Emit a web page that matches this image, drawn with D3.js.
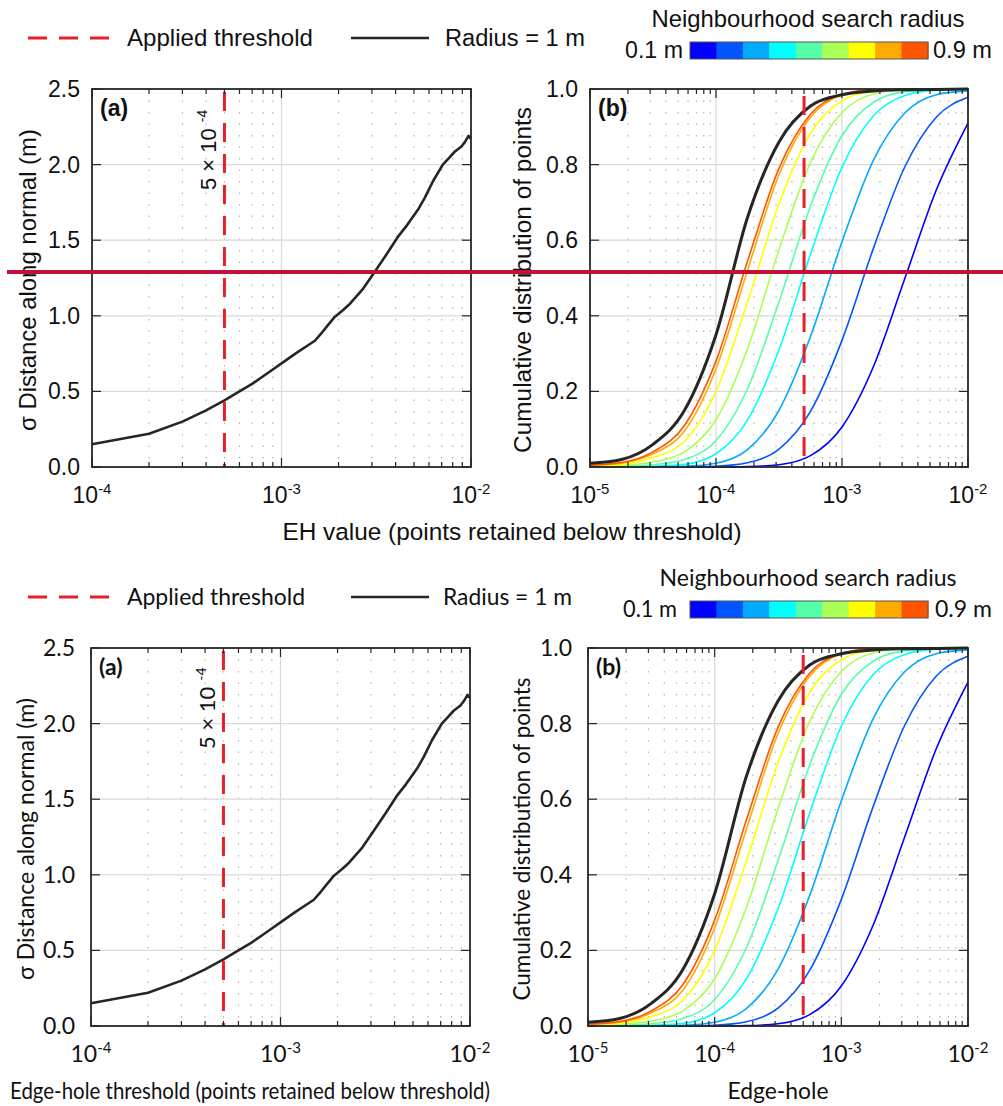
<!DOCTYPE html>
<html><head><meta charset="utf-8">
<script src="https://cdn.jsdelivr.net/npm/d3@7"></script>
<style>body{margin:0;background:#fff} svg{display:block}</style>
</head><body>
<svg id="chart" width="1003" height="1106"></svg>
<script>
// ---------- data ----------
const ehValues = [1e-4, 2e-4, 3e-4, 4e-4, 5e-4, 6e-4, 7e-4, 8e-4, 9e-4, 1e-3, 1.2e-3, 1.4e-3, 1.5e-3, 1.6e-3, 1.75e-3, 1.9e-3, 2.1e-3, 2.3e-3, 2.7e-3, 3.1e-3, 3.6e-3, 4.1e-3, 4.6e-3, 5.3e-3, 5.7e-3, 6.3e-3, 7.1e-3, 7.6e-3, 8.2e-3, 8.9e-3, 9.3e-3, 9.7e-3, 1e-2];
const sigmaValues = [0.15, 0.22, 0.30, 0.375, 0.44, 0.50, 0.55, 0.60, 0.645, 0.685, 0.755, 0.81, 0.835, 0.875, 0.935, 0.99, 1.035, 1.08, 1.18, 1.29, 1.41, 1.52, 1.60, 1.71, 1.78, 1.89, 2.0, 2.04, 2.085, 2.12, 2.15, 2.19, 2.17];

const cdfX = [1e-5, 1.778e-5, 3.162e-5, 5.623e-5, 1e-4, 1.778e-4, 3.162e-4, 5.623e-4, 1e-3, 1.778e-3, 3.162e-3, 5.623e-3, 1e-2];
const radiusLabels = ["0.1 m", "0.2 m", "0.3 m", "0.4 m", "0.5 m", "0.6 m", "0.7 m", "0.8 m", "0.9 m"];
const cdfR01 = [0, 0, 0, 0, 0.0001, 0.001, 0.006, 0.030, 0.106, 0.266, 0.50, 0.734, 0.91];
const cdfR02 = [0, 0, 0.0001, 0.0002, 0.002, 0.011, 0.047, 0.147, 0.335, 0.579, 0.795, 0.926, 0.978];
const cdfR03 = [0, 0.0002, 0.0005, 0.002, 0.010, 0.046, 0.150, 0.345, 0.596, 0.812, 0.937, 0.985, 0.995];
const cdfR04 = [0.0005, 0.001, 0.002, 0.007, 0.035, 0.124, 0.310, 0.563, 0.793, 0.929, 0.983, 0.997, 0.999];
const cdfR05 = [0.001, 0.002, 0.006, 0.020, 0.070, 0.207, 0.437, 0.690, 0.877, 0.965, 0.993, 0.999, 1];
const cdfR06 = [0.002, 0.004, 0.013, 0.040, 0.125, 0.313, 0.575, 0.806, 0.938, 0.987, 0.998, 0.9995, 1];
const cdfR07 = [0.003, 0.007, 0.025, 0.068, 0.200, 0.436, 0.696, 0.883, 0.969, 0.994, 0.999, 1, 1];
const cdfR08 = [0.004, 0.010, 0.035, 0.095, 0.260, 0.520, 0.773, 0.925, 0.984, 0.997, 0.999, 1, 1];
const cdfR09 = [0.005, 0.012, 0.040, 0.110, 0.280, 0.544, 0.790, 0.933, 0.986, 0.998, 0.999, 1, 1];
const cdfR1m = [0.010, 0.020, 0.060, 0.150, 0.350, 0.660, 0.860, 0.955, 0.985, 0.995, 0.998, 0.999, 1];
const cdfSeries = [cdfR01, cdfR02, cdfR03, cdfR04, cdfR05, cdfR06, cdfR07, cdfR08, cdfR09];

const thresholdValue = 5e-4;
const sigmaTicks = [0, 0.5, 1.0, 1.5, 2.0, 2.5];
const cdfTicks = [0, 0.2, 0.4, 0.6, 0.8, 1.0];
const ehDecades = [1e-4, 1e-3, 1e-2];
const cdfDecades = [1e-5, 1e-4, 1e-3, 1e-2];

// ---------- styles ----------
const jet9 = ["#0000ff", "#0055ff", "#00aaff", "#00ffff", "#55ffaa", "#aaff55", "#ffff00", "#ffaa00", "#ff5500"];
const AX = "#262626";
const RED = "#e8202a";

const svg = d3.select("#chart");

// match a text's rendered width to a target: either by font-size ("fit") or by glyph compression ("squeeze")
function sizeText(sel, target, mode) {
  const w = sel.node().getComputedTextLength();
  if (!(w > 0)) return sel;
  if (mode === "squeeze") {
    sel.attr("textLength", target).attr("lengthAdjust", "spacingAndGlyphs");
  } else {
    const fs = parseFloat(sel.attr("font-size"));
    sel.attr("font-size", (fs * target / w).toFixed(2));
  }
  return sel;
}

function expLabel(sel, d, supSize) {
  const e = Math.round(Math.log10(d));
  sel.append("tspan").text("10");
  sel.append("tspan").attr("dy", -9).attr("font-size", supSize).text(String(e));
}

function drawPanel(g, p) {
  const F = p.font;
  const x = d3.scaleLog().domain(p.xDomain).range([p.left, p.right]);
  const y = d3.scaleLinear().domain(p.yDomain).range([p.bottom, p.top]);
  const allTicks = x.ticks();
  const decadeSet = new Set(p.decades.map(d => d.toExponential(3)));
  const minor = allTicks.filter(d => !decadeSet.has(d.toExponential(3)));

  g.append("g").selectAll("line").data(minor).join("line")
    .attr("x1", d => x(d)).attr("x2", d => x(d))
    .attr("y1", p.top).attr("y2", p.bottom)
    .attr("stroke", "#b4b4b4").attr("stroke-width", 1.2).attr("stroke-dasharray", "1.5,10");
  g.append("g").selectAll("line").data(p.decades.slice(1, -1)).join("line")
    .attr("x1", d => x(d)).attr("x2", d => x(d))
    .attr("y1", p.top).attr("y2", p.bottom)
    .attr("stroke", "#dadada").attr("stroke-width", 1.2);
  g.append("g").selectAll("line").data(p.yTicks.slice(1, -1)).join("line")
    .attr("x1", p.left).attr("x2", p.right)
    .attr("y1", d => y(d)).attr("y2", d => y(d))
    .attr("stroke", "#dadada").attr("stroke-width", 1.2);

  p.drawData(g, x, y);

  g.append("rect").attr("x", p.left).attr("y", p.top)
    .attr("width", p.right - p.left).attr("height", p.bottom - p.top)
    .attr("fill", "none").attr("stroke", AX).attr("stroke-width", 1.8);

  const tk = g.append("g").attr("stroke", AX).attr("stroke-width", 1.2);
  tk.selectAll("line.mnb").data(minor).join("line").attr("class", "mnb")
    .attr("x1", d => x(d)).attr("x2", d => x(d)).attr("y1", p.bottom).attr("y2", p.bottom - 5);
  tk.selectAll("line.mnt").data(minor).join("line").attr("class", "mnt")
    .attr("x1", d => x(d)).attr("x2", d => x(d)).attr("y1", p.top).attr("y2", p.top + 5);
  tk.selectAll("line.mjb").data(p.decades).join("line").attr("class", "mjb")
    .attr("x1", d => x(d)).attr("x2", d => x(d)).attr("y1", p.bottom).attr("y2", p.bottom - 9);
  tk.selectAll("line.mjt").data(p.decades).join("line").attr("class", "mjt")
    .attr("x1", d => x(d)).attr("x2", d => x(d)).attr("y1", p.top).attr("y2", p.top + 9);
  tk.selectAll("line.yl").data(p.yTicks).join("line").attr("class", "yl")
    .attr("x1", p.left).attr("x2", p.left + 9).attr("y1", d => y(d)).attr("y2", d => y(d));
  tk.selectAll("line.yr").data(p.yTicks).join("line").attr("class", "yr")
    .attr("x1", p.right).attr("x2", p.right - 9).attr("y1", d => y(d)).attr("y2", d => y(d));

  g.append("g").selectAll("text").data(p.decades).join("text")
    .attr("font-family", F)
    .attr("x", d => x(d)).attr("y", p.tickBaseline)
    .attr("text-anchor", "middle").attr("font-size", p.tickSize).attr("fill", "#111")
    .each(function (d) { expLabel(d3.select(this), d, p.supSize); });
  g.append("g").selectAll("text").data(p.yTicks).join("text")
    .attr("font-family", F)
    .attr("x", p.left - p.yLabelGap).attr("y", d => y(d) + 8)
    .attr("text-anchor", "end").attr("font-size", p.tickSize).attr("fill", "#111")
    .text(d => d.toFixed(1));

  g.append("text").attr("font-family", F).attr("x", p.left + 8).attr("y", p.top + 27)
    .attr("font-weight", "bold").attr("font-size", 23).attr("fill", "#111").text(p.letter);

  const yt = g.append("text").attr("font-family", F)
    .attr("transform", `translate(${p.yTitleX},${p.yTitleY}) rotate(-90)`)
    .attr("text-anchor", "middle").attr("font-size", p.titleSize).attr("fill", "#111")
    .text(p.yTitle);
  sizeText(yt, p.yTitleW, p.mode);
  return { x, y };
}

function drawFigure(cfg) {
  const F = cfg.font;
  const g = svg.append("g").attr("transform", `translate(0,${cfg.dy})`);
  const txt = (x, y, s, w, anchor) => {
    const t = g.append("text").attr("font-family", F).attr("x", x).attr("y", y)
      .attr("text-anchor", anchor || "start").attr("font-size", 24).attr("fill", "#111").text(s);
    return sizeText(t, w, cfg.mode);
  };

  // ---- legend ----
  g.append("line").attr("x1", 28).attr("x2", 110).attr("y1", 38).attr("y2", 38)
    .attr("stroke", RED).attr("stroke-width", 3).attr("stroke-dasharray", "19,12");
  txt(127, 46, "Applied threshold", cfg.w.applied);
  g.append("line").attr("x1", 351).attr("x2", 429).attr("y1", 38).attr("y2", 38)
    .attr("stroke", AX).attr("stroke-width", 2.5);
  txt(cfg.radiusX, 46, "Radius = 1 m", cfg.w.radius);

  txt(cfg.nsrX, 27, "Neighbourhood search radius", cfg.w.nsr, "middle");
  const cb = d3.scaleBand().domain(radiusLabels).range([690, 928]);
  g.append("g").selectAll("rect").data(radiusLabels).join("rect")
    .attr("x", d => cb(d)).attr("y", 42).attr("width", cb.bandwidth() + 0.5).attr("height", 17)
    .attr("fill", (d, i) => jet9[i]);
  g.append("rect").attr("x", 690).attr("y", 42).attr("width", 238).attr("height", 17)
    .attr("fill", "none").attr("stroke", "#555").attr("stroke-width", 1);
  txt(cfg.lowX, 58, radiusLabels[0], cfg.w.low, "end");
  txt(cfg.highX, 58, radiusLabels[8], cfg.w.high);

  const common = { font: F, mode: cfg.mode, top: 89, bottom: 467, tickBaseline: 503,
                   tickSize: cfg.tickSize, titleSize: 24, supSize: 15,
                   yLabelGap: cfg.yLabelGap, yTitleY: 280 };

  drawPanel(g, Object.assign({}, common, {
    left: cfg.aLeft, right: cfg.aRight, xDomain: [1e-4, 1e-2], yDomain: [0, 2.5],
    decades: ehDecades, yTicks: sigmaTicks, letter: "(a)",
    yTitle: "σ Distance along normal (m)", yTitleX: cfg.aTitleX, yTitleW: cfg.w.yA,
    drawData: (gg, x, y) => {
      const pts = ehValues.map((v, i) => [v, sigmaValues[i]]);
      gg.append("path").attr("d", d3.line().x(d => x(d[0])).y(d => y(d[1]))(pts))
        .attr("fill", "none").attr("stroke", AX).attr("stroke-width", 2.6)
        .attr("stroke-linejoin", "round");
      gg.append("line").attr("x1", x(thresholdValue)).attr("x2", x(thresholdValue))
        .attr("y1", 92).attr("y2", 467)
        .attr("stroke", RED).attr("stroke-width", 3).attr("stroke-dasharray", "19,12");
      const t = gg.append("text").attr("font-family", F)
        .attr("transform", `translate(${x(thresholdValue) - 8},190) rotate(-90)`)
        .attr("font-size", 22).attr("fill", "#111");
      t.append("tspan").text("5 × 10");
      t.append("tspan").attr("dx", 6).attr("dy", -9).attr("font-size", 14).text("-4");
    }
  }));

  drawPanel(g, Object.assign({}, common, {
    left: cfg.bLeft, right: cfg.bRight, xDomain: [1e-5, 1e-2], yDomain: [0, 1],
    decades: cdfDecades, yTicks: cdfTicks, letter: "(b)",
    yTitle: "Cumulative distribution of points", yTitleX: cfg.bTitleX, yTitleW: cfg.w.yB,
    drawData: (gg, x, y) => {
      const line = d3.line().x(d => x(d[0])).y(d => y(d[1])).curve(d3.curveMonotoneX);
      cdfSeries.forEach((s, i) => {
        gg.append("path").attr("d", line(cdfX.map((v, j) => [v, s[j]])))
          .attr("fill", "none").attr("stroke", jet9[i]).attr("stroke-width", 1.6);
      });
      gg.append("path").attr("d", line(cdfX.map((v, j) => [v, cdfR1m[j]])))
        .attr("fill", "none").attr("stroke", AX).attr("stroke-width", 3);
      gg.append("line").attr("x1", x(thresholdValue)).attr("x2", x(thresholdValue))
        .attr("y1", 96).attr("y2", 467)
        .attr("stroke", RED).attr("stroke-width", 3).attr("stroke-dasharray", "19,12");
    }
  }));

  cfg.xTitles.forEach(t => txt(t.x, 540, t.text, t.w, "middle"));
  return g;
}

drawFigure({
  dy: 0, font: "Liberation Sans", mode: "fit", tickSize: 23, yLabelGap: 12,
  aLeft: 92, aRight: 471, bLeft: 590, bRight: 968, aTitleX: 36, bTitleX: 531,
  radiusX: 445, nsrX: 808, lowX: 683, highX: 933,
  w: { applied: 186, radius: 140, nsr: 313, low: 58, high: 59, yA: 302, yB: 346 },
  xTitles: [{ x: 512, text: "EH value (points retained below threshold)", w: 459 }]
});
drawFigure({
  dy: 559, font: "Lato", mode: "squeeze", tickSize: 23, yLabelGap: 16,
  aLeft: 91, aRight: 470, bLeft: 588, bRight: 968, aTitleX: 34, bTitleX: 530,
  radiusX: 443, nsrX: 808, lowX: 677, highX: 935,
  w: { applied: 178, radius: 129, nsr: 297, low: 54, high: 57, yA: 282, yB: 323 },
  xTitles: [{ x: 250, text: "Edge-hole threshold (points retained below threshold)", w: 480 },
            { x: 778, text: "Edge-hole", w: 101 }]
});

// annotation line across the top figure
svg.append("line").attr("x1", 7).attr("x2", 1003).attr("y1", 272).attr("y2", 272)
  .attr("stroke", "#c40f3a").attr("stroke-width", 4);
</script>
</body></html>
